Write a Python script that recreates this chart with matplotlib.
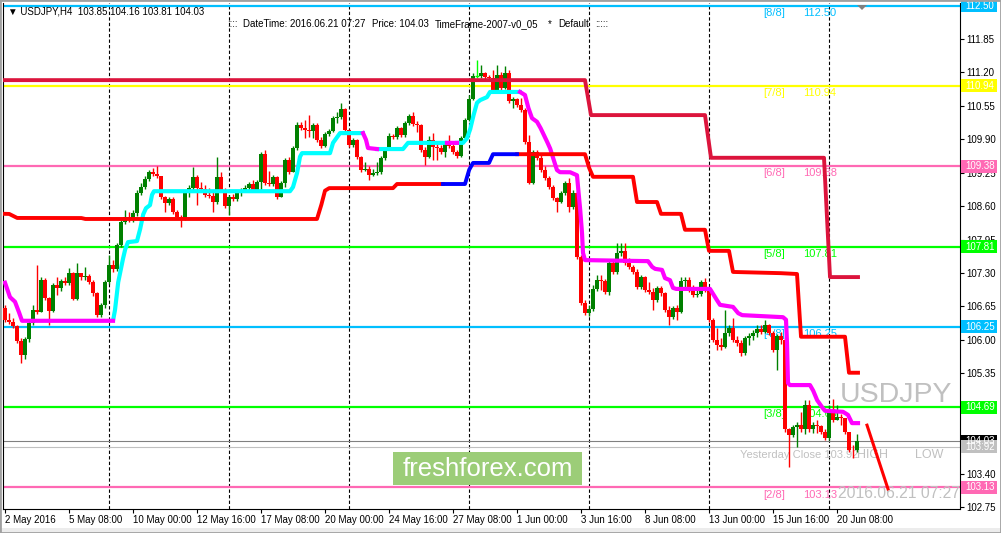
import numpy as np
import matplotlib.pyplot as plt
from matplotlib.patches import Rectangle, Polygon
import matplotlib.transforms as mtransforms

plt.rcParams['font.family'] = ['Liberation Sans', 'DejaVu Sans']

# --- H4 candles USDJPY, 2 May -> 21 Jun 2016 (bar index = position) ---
open0 = 106.62
closes = [
    106.39, 106.35, 106.27, 105.98, 105.71, 106.02, 106.33, 106.58, 106.54, 107.16,
    106.81, 106.56, 107.07, 107.01, 107.14, 107.10, 107.30, 106.79, 107.30, 107.22,
    107.24, 107.12, 106.91, 106.48, 106.68, 107.12, 107.46, 107.38, 107.84, 108.29,
    108.39, 108.33, 108.47, 108.86, 108.97, 109.13, 109.26, 109.22, 109.19, 108.78,
    108.66, 108.74, 108.49, 108.39, 108.33, 108.86, 108.95, 109.17, 108.95, 108.93,
    108.82, 108.80, 108.68, 109.17, 108.91, 108.60, 108.78, 108.74, 108.87, 108.91,
    108.95, 109.03, 108.91, 109.07, 109.61, 109.05, 109.03, 109.17, 108.78, 109.05,
    109.50, 109.26, 109.73, 110.18, 110.12, 110.08, 110.06, 110.18, 109.89, 109.77,
    110.00, 110.06, 110.31, 110.33, 110.49, 110.08, 109.79, 109.89, 109.56, 109.30,
    109.32, 109.20, 109.24, 109.26, 109.54, 109.71, 109.96, 109.94, 110.12, 109.98,
    110.22, 110.35, 110.20, 110.18, 109.69, 109.56, 109.89, 109.75, 109.73, 109.65,
    109.83, 109.77, 109.65, 109.58, 109.92, 110.27, 110.68, 111.13, 111.13, 111.19,
    111.11, 111.09, 110.86, 111.15, 110.90, 111.19, 110.64, 110.68, 110.57, 110.47,
    109.85, 109.05, 109.65, 109.54, 109.30, 109.15, 108.97, 108.76, 108.68, 108.86,
    109.05, 108.58, 108.86, 107.61, 106.72, 106.52, 106.60, 106.99, 107.16, 107.14,
    106.93, 107.49, 107.32, 107.69, 107.73, 107.49, 107.42, 107.32, 107.03, 107.22,
    106.97, 106.93, 106.77, 107.01, 106.91, 106.58, 106.44, 106.62, 106.54, 107.14,
    107.16, 106.97, 106.87, 106.89, 107.12, 106.97, 106.39, 106.00, 105.90, 105.86,
    106.13, 106.23, 106.00, 105.94, 105.74, 106.04, 106.07, 106.13, 106.21, 106.15,
    106.29, 106.13, 105.80, 106.07, 106.00, 104.27, 104.15, 104.31, 104.34, 104.27,
    104.73, 104.27, 104.34, 104.32, 104.21, 104.09, 104.64, 104.44, 104.50, 104.48,
    104.21, 103.86, 103.85, 104.03]
highs = [
    106.68, 106.52, 106.42, 106.29, 106.04, 106.06, 106.39, 106.68, 107.46, 107.22,
    107.20, 106.83, 107.10, 107.22, 107.18, 107.22, 107.40, 107.32, 107.49, 107.30,
    107.42, 107.28, 107.16, 106.93, 106.72, 107.16, 107.65, 107.55, 107.88, 108.33,
    108.52, 108.49, 108.52, 108.91, 109.05, 109.19, 109.30, 109.34, 109.38, 109.19,
    108.80, 108.78, 108.78, 108.52, 108.43, 108.89, 109.01, 109.36, 109.20, 109.07,
    109.01, 108.95, 108.87, 109.56, 109.26, 108.95, 108.82, 108.84, 108.91, 108.95,
    109.01, 109.07, 109.11, 109.11, 109.65, 109.69, 109.28, 109.20, 109.19, 109.09,
    109.54, 109.56, 109.77, 110.24, 110.24, 110.27, 110.37, 110.22, 110.22, 109.94,
    110.04, 110.10, 110.35, 110.43, 110.60, 110.51, 110.10, 109.92, 109.90, 109.58,
    109.46, 109.38, 109.32, 109.46, 109.58, 109.75, 110.02, 110.00, 110.16, 110.14,
    110.26, 110.39, 110.43, 110.26, 110.20, 109.75, 109.96, 110.02, 109.83, 109.79,
    109.87, 109.98, 109.83, 109.69, 109.96, 110.31, 110.76, 111.19, 111.44, 111.34,
    111.21, 111.15, 111.25, 111.34, 111.21, 111.32, 111.25, 110.72, 110.70, 110.70,
    110.51, 109.98, 109.69, 109.69, 109.59, 109.38, 109.19, 109.01, 108.78, 108.89,
    109.09, 109.15, 108.91, 108.89, 107.65, 106.77, 106.68, 107.07, 107.26, 107.26,
    107.18, 107.53, 107.53, 107.88, 107.88, 107.88, 107.59, 107.46, 107.38, 107.26,
    107.24, 107.12, 107.01, 107.05, 107.05, 106.93, 106.66, 106.66, 106.68, 107.22,
    107.22, 107.22, 107.07, 107.01, 107.16, 107.20, 106.93, 106.42, 106.23, 106.04,
    106.58, 106.29, 106.42, 106.07, 106.00, 106.07, 106.13, 106.19, 106.29, 106.29,
    106.39, 106.31, 106.17, 106.11, 106.15, 106.06, 104.29, 104.34, 104.40, 104.60,
    104.83, 104.83, 104.40, 104.44, 104.34, 104.27, 104.73, 104.85, 104.73, 104.56,
    104.48, 104.11, 103.96, 104.16]
lows = [
    106.35, 106.31, 106.23, 105.94, 105.55, 105.63, 105.96, 106.29, 106.50, 106.54,
    106.77, 106.29, 106.54, 106.87, 106.95, 107.07, 107.07, 106.77, 106.77, 107.16,
    107.16, 107.09, 106.85, 106.44, 106.44, 106.62, 107.09, 107.32, 107.34, 107.81,
    108.25, 108.29, 108.29, 108.41, 108.82, 108.93, 109.09, 109.19, 109.15, 108.74,
    108.49, 108.62, 108.45, 108.35, 108.19, 108.33, 108.78, 108.91, 108.62, 108.87,
    108.78, 108.76, 108.49, 108.64, 108.87, 108.56, 108.43, 108.70, 108.70, 108.80,
    108.87, 108.91, 108.87, 108.89, 108.91, 109.01, 108.99, 108.99, 108.74, 108.78,
    108.97, 109.22, 109.26, 109.69, 110.08, 109.92, 109.94, 109.92, 109.85, 109.73,
    109.75, 109.96, 110.04, 110.22, 110.29, 110.04, 109.75, 109.75, 109.52, 109.26,
    109.28, 109.11, 109.19, 109.20, 109.22, 109.50, 109.69, 109.90, 109.90, 109.94,
    109.94, 110.18, 110.16, 110.04, 109.65, 109.40, 109.54, 109.50, 109.50, 109.61,
    109.56, 109.73, 109.61, 109.54, 109.56, 109.89, 110.26, 110.66, 111.09, 111.09,
    111.07, 111.05, 110.82, 110.84, 110.86, 110.88, 110.60, 110.51, 110.53, 110.43,
    109.81, 109.03, 109.03, 109.50, 109.26, 109.11, 108.93, 108.72, 108.49, 108.66,
    108.82, 108.49, 108.54, 107.57, 106.68, 106.48, 106.46, 106.56, 106.95, 106.97,
    106.89, 106.87, 107.28, 107.28, 107.63, 107.46, 107.38, 107.28, 106.99, 106.99,
    106.93, 106.89, 106.58, 106.74, 106.85, 106.54, 106.29, 106.40, 106.39, 106.52,
    106.99, 106.93, 106.83, 106.83, 106.85, 106.93, 106.35, 105.96, 105.80, 105.80,
    105.84, 106.07, 105.96, 105.88, 105.69, 105.71, 105.90, 106.00, 106.06, 106.11,
    106.13, 106.09, 105.76, 105.41, 105.92, 104.21, 103.53, 104.11, 103.92, 104.21,
    104.17, 104.21, 104.19, 104.19, 104.17, 104.05, 104.05, 104.40, 104.44, 104.34,
    104.17, 103.82, 103.70, 103.81]

date_ticks = [0, 16, 32, 48, 64, 80, 96, 112, 128, 144, 160, 176, 192, 208]
date_labels = ["2 May 2016", "5 May 08:00", "10 May 00:00", "12 May 16:00",
               "17 May 08:00", "20 May 00:00", "24 May 16:00", "27 May 08:00",
               "1 Jun 00:00", "3 Jun 16:00", "8 Jun 08:00", "13 Jun 00:00",
               "15 Jun 16:00", "20 Jun 08:00"]
week_lines = [26, 56, 86, 116, 146, 176, 206]

# price scale labels (those hidden under the level boxes are left out)
price_ticks = [102.75, 103.40, 105.35, 106.00, 106.65, 107.30, 107.95, 108.60,
               109.25, 109.90, 110.55, 111.20, 111.85]

# Murrey math levels
mm_levels = [112.50, 110.94, 109.38, 107.81, 106.25, 104.69, 103.13]
mm_names = ["[8/8]", "[7/8]", "[6/8]", "[5/8]", "[4/8]", "[3/8]", "[2/8]"]
mm_colors = ["#00bfff", "#ffff00", "#ff69b4", "#00ff00", "#00bfff", "#00ff00", "#ff69b4"]

bid = 104.03
yclose = 103.92

# trailing stop line (cyan = up, magenta = down)
trail_bar = [0, 1.25, 2.5, 3.3, 4.25, 27, 27.5, 28.25, 29.25, 30, 30.75, 33, 33.75, 34.5,
             35.25, 36.25, 36.75, 37.25, 71.25, 72, 73, 73.75, 74.25, 81.25, 82, 83, 83.75,
             89.5, 90.25, 90.75, 93, 99.5, 100.75, 110.5, 113, 114.5, 115.5, 116.25, 117,
             118, 118.75, 120.5, 121.25, 128.75, 130, 130.75, 131.75, 133, 133.75, 135,
             136.25, 137, 138, 138.75, 141.25, 143, 143.25, 143.75, 144.25, 144.5, 145,
             160.75, 161.75, 162.5, 164.25, 165, 166.25, 167, 167.75, 176.25, 177.5, 178.75,
             182, 183.25, 184.25, 194.5, 195.25, 195.5, 195.75, 196.25, 201.25, 202, 203,
             204.25, 205, 209.5, 210.75, 211.75, 213.25]
trail_val = [107.11, 106.83, 106.74, 106.58, 106.37, 106.37, 106.58, 107.10, 107.49, 107.75,
             107.90, 107.92, 108.14, 108.43, 108.56, 108.62, 108.82, 108.89, 108.89, 108.97,
             109.24, 109.56, 109.63, 109.63, 109.83, 109.94, 110.02, 110.02, 109.89, 109.73,
             109.71, 109.71, 109.83, 109.83, 109.83, 109.83, 109.92, 110.08, 110.33, 110.61,
             110.66, 110.72, 110.82, 110.82, 110.76, 110.53, 110.31, 110.24, 110.14, 109.94,
             109.73, 109.54, 109.30, 109.26, 109.26, 109.20, 108.97, 108.58, 108.08, 107.69,
             107.55, 107.53, 107.42, 107.38, 107.36, 107.20, 107.16, 107.01, 106.99, 106.99,
             106.83, 106.68, 106.64, 106.52, 106.48, 106.44, 106.39, 105.94, 105.16, 105.12,
             105.12, 105.02, 104.83, 104.69, 104.62, 104.60, 104.54, 104.38, 104.38]
trail_down = [(0, 27), (89.5, 93), (110.5, 113), (128.75, 213.25)]

# upper band (crimson)
hi_bar = [0, 145, 146.5, 175, 176.5, 204.75, 206.25, 213.25]
hi_val = [111.05, 111.05, 110.37, 110.37, 109.54, 109.54, 107.22, 107.22]

# lower band (red, blue part)
lo_bar = [0, 1, 3, 19, 20, 78, 79, 80, 81, 97, 98, 115, 116, 117, 121, 122, 145, 146, 147,
          157, 158, 163, 164, 169, 170, 175, 176, 181, 182, 193, 198, 199, 210, 211, 213.25]
lo_val = [108.45, 108.45, 108.37, 108.37, 108.35, 108.35, 108.60, 108.90, 108.95, 108.95,
          109.03, 109.03, 109.30, 109.44, 109.44, 109.61, 109.61, 109.35, 109.17, 109.17,
          108.68, 108.68, 108.45, 108.45, 108.14, 108.14, 107.73, 107.73, 107.32, 107.30,
          107.28, 106.06, 106.06, 105.36, 105.36]
lo_blue = (109.5, 128.0)

proj_bar = [215.5, 220.75]
proj_val = [104.34, 103.10]

W, H = 1001, 533
fig = plt.figure(figsize=(W / 100, H / 100), dpi=100)
fig.patch.set_facecolor('white')
ax = fig.add_axes([3 / W, (H - 509) / H, (960 - 3) / W, (509 - 3) / H])
ax.set_xlim(-0.5, 238.75)
ax.set_ylim(102.71, 112.55)
ax.set_facecolor('white')


def fx(px):
    return px / W


def fy(py):
    return 1 - py / H


# background objects
for b in week_lines:
    ax.axvline(b, color='black', lw=0.8, ls=(0, (3, 2)), zorder=1)
for lvl, nm, c in zip(mm_levels, mm_names, mm_colors):
    ax.axhline(lvl, color=c, lw=1.6, zorder=1)
    ax.text(189.5, lvl - 0.14, nm, color=c, fontsize=8, va='center', zorder=2)
    ax.text(199.5, lvl - 0.14, f"{lvl:.2f}", color=c, fontsize=8, va='center', zorder=2)
ax.axhline(bid, color='#808080', lw=0.8, zorder=1)
ax.axhline(yclose, color='#c0c0c0', lw=0.8, zorder=1)

silver = '#c0c0c0'
ax.text(fx(840), fy(395), "USDJPY", transform=fig.transFigure, fontsize=20.5,
        color=silver, va='center', zorder=2)
ax.text(fx(740), fy(455), "Yesterday Close 103.92", transform=fig.transFigure,
        fontsize=8, color=silver, va='center', zorder=2)
ax.text(fx(857), fy(455), "HIGH", transform=fig.transFigure, fontsize=9,
        color=silver, va='center', zorder=2)
ax.text(fx(915), fy(455), "LOW", transform=fig.transFigure, fontsize=9,
        color=silver, va='center', zorder=2)
ax.text(fx(838), fy(493), "2016.06.21 07:27", transform=fig.transFigure,
        fontsize=11.3, color=silver, va='center', zorder=2)

# candles
c = np.array(closes)
o = np.r_[open0, c[:-1]]
hh = np.maximum(np.array(highs), np.maximum(o, c))
ll = np.minimum(np.array(lows), np.minimum(o, c))
idx = np.arange(len(c))
up = c > o + 0.004
dn = c < o - 0.004
dj = ~up & ~dn
green, red = '#008000', '#ff0000'
ax.vlines(idx[up], ll[up], hh[up], color=green, lw=1, zorder=3)
ax.bar(idx[up], c[up] - o[up], bottom=o[up], width=0.8, color=green, lw=0, zorder=3)
ax.vlines(idx[dn], ll[dn], hh[dn], color=red, lw=1, zorder=3)
ax.bar(idx[dn], c[dn] - o[dn], bottom=o[dn], width=0.8, color=red, lw=0, zorder=3)
ax.vlines(idx[dj], ll[dj], hh[dj], color='#00ff00', lw=1, zorder=3)
ax.hlines(c[dj], idx[dj] - 0.4, idx[dj] + 0.4, color='#00ff00', lw=1, zorder=3)

# indicator lines
xs = np.arange(0, 213.26, 0.05)
ys = np.interp(xs, trail_bar, trail_val)
down = np.zeros(xs.size, bool)
for a, b in trail_down:
    down |= (xs >= a) & (xs <= b)
ax.plot(xs, np.where(down, np.nan, ys), color='#00ffff', lw=3, zorder=4)
ax.plot(xs, np.where(down, ys, np.nan), color='#ff00ff', lw=3, zorder=4)

ys2 = np.interp(xs, lo_bar, lo_val)
blue = (xs >= lo_blue[0]) & (xs <= lo_blue[1])
ax.plot(xs, np.where(blue, np.nan, ys2), color='#ff0000', lw=2.8, zorder=4)
ax.plot(xs, np.where(blue, ys2, np.nan), color='#0000ff', lw=2.8, zorder=4)
ax.plot(hi_bar, hi_val, color='#dc143c', lw=2.8, zorder=4)
ax.plot(proj_bar, proj_val, color='#ff0000', lw=2.2, zorder=4)

# axes
for s in ['left', 'bottom', 'right']:
    ax.spines[s].set_color('black')
    ax.spines[s].set_linewidth(0.8)
ax.spines['top'].set_visible(False)
ax.yaxis.tick_right()
ax.set_yticks(price_ticks)
ax.set_yticklabels([f"{v:.2f}" for v in price_ticks])
ax.tick_params(axis='y', direction='out', length=3, width=0.8, pad=1.5, labelsize=7)
ax.set_xticks(date_ticks)
ax.set_xticklabels(date_labels)
ax.tick_params(axis='x', direction='out', length=3, width=0.8, pad=1, labelsize=7)
for t in ax.get_xticklabels():
    t.set_horizontalalignment('left')

# price boxes on the axis
trans = mtransforms.blended_transform_factory(ax.transAxes, ax.transData)
boxes = list(zip(mm_levels, mm_colors)) + [(bid, '#000000'), (yclose, silver)]
bh = 13 * (112.55 - 102.71) / 506
for v, fc in boxes:
    ax.add_patch(Rectangle((1.001, v - bh / 2), 0.0376, bh, transform=trans, fc=fc,
                           ec='none', clip_on=False, zorder=5))
    ax.text(1.006, v, f"{v:.2f}", transform=trans, color='white', fontsize=7,
            va='center', ha='left', zorder=6, clip_on=False)

# header texts
fig.text(fx(8), fy(12), "\u25bc USDJPY,H4  103.85 104.16 103.81 104.03", fontsize=7,
         va='center', color='black')
for px, s in [(227, "::::"), (243, "DateTime: 2016.06.21 07:27"), (372, "Price: 104.03"),
              (435, "TimeFrame-2007-v0_05"), (548, "*"), (558, "Default"), (595, ":::::")]:
    fig.text(fx(px), fy(24), s, fontsize=7, va='center', color='black')

# chart shift marker
fig.patches.append(Polygon([[fx(857), fy(5)], [fx(867), fy(5)], [fx(862), fy(10)]],
                           closed=True, transform=fig.transFigure, fc='#808080', ec='none'))

# watermark
fig.patches.append(Rectangle((fx(393), fy(485)), fx(582) - fx(393), fy(452) - fy(485),
                             transform=fig.transFigure, fc='#9ccd78', ec='none', zorder=10))
fig.text(fx(487.5), fy(469), "freshforex.com", fontsize=18.5, color='white',
         ha='center', va='center', zorder=11)

# window frame
fig.patches.append(Rectangle((0, 0), 1, fy(528), transform=fig.transFigure,
                             fc='#ececec', ec='none', zorder=0))
fig.patches.append(Rectangle((0, 0), 1, 1, transform=fig.transFigure, fill=False,
                             ec='#a0a0a0', lw=2, zorder=12))

fig.savefig('out.png', dpi=100)
